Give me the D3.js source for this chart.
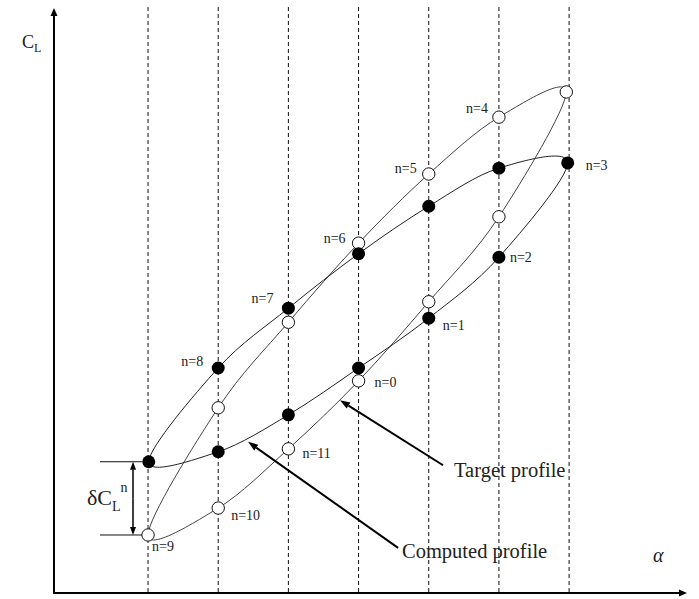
<!DOCTYPE html>
<html>
<head>
<meta charset="utf-8">
<script src="https://cdn.jsdelivr.net/npm/d3@7"></script>
<style>
  html, body { margin: 0; padding: 0; background: #fff; }
  svg { display: block; }
  text { font-family: "Liberation Serif", "Times New Roman", serif; fill: #222; }
</style>
</head>
<body>
<svg id="chart" width="699" height="599"></svg>
<script>
// Angle-of-attack stations (dashed verticals)
const stations = [0, 1, 2, 3, 4, 5, 6];

// Phase index n = 0..11 over one oscillation cycle
const phaseLabels = ["n=0", "n=1", "n=2", "n=3", "n=4", "n=5",
                     "n=6", "n=7", "n=8", "n=9", "n=10", "n=11"];

// Target lift profile (open markers)
const targetAlpha = [3, 4, 5, 5.96, 5, 4, 3, 2, 1, 0, 1, 2];
const targetCL    = [3.62, 4.97, 6.42, 8.55, 8.12, 7.15, 5.97, 4.62, 3.16, 0.99, 1.45, 2.46];

// Computed lift profile (filled markers)
const computedAlpha = [3, 4, 5, 5.98, 5, 4, 3, 2, 1, 0.01, 1, 2];
const computedCL    = [3.84, 4.69, 5.73, 7.34, 7.25, 6.60, 5.79, 4.86, 3.84, 2.24, 2.41, 3.04];

const svg = d3.select("#chart");

const x = d3.scaleLinear().domain([-1.34, 7.68]).range([54, 687]);
const y = d3.scaleLinear().domain([0, 10]).range([593, 7]);

const target = targetAlpha.map((a, i) => ({ n: i, a, cl: targetCL[i] }));
const computed = computedAlpha.map((a, i) => ({ n: i, a, cl: computedCL[i] }));

// Dashed station lines
svg.append("g").selectAll("line").data(stations).join("line")
  .attr("x1", d => x(d)).attr("x2", d => x(d))
  .attr("y1", y(10)).attr("y2", y(0))
  .attr("stroke", "#111").attr("stroke-width", 1)
  .attr("stroke-dasharray", "4,3");

// Closed smooth loops through the samples
const loop = d3.line()
  .x(d => x(d.a)).y(d => y(d.cl))
  .curve(d3.curveCatmullRomClosed.alpha(0));

svg.append("path").datum(target).attr("d", loop)
  .attr("fill", "none").attr("stroke", "#444").attr("stroke-width", 1);
svg.append("path").datum(computed).attr("d", loop)
  .attr("fill", "none").attr("stroke", "#222").attr("stroke-width", 1);

// Markers
svg.append("g").selectAll("circle").data(target).join("circle")
  .attr("cx", d => x(d.a)).attr("cy", d => y(d.cl)).attr("r", 6.2)
  .attr("fill", "#fff").attr("stroke", "#111").attr("stroke-width", 1);
svg.append("g").selectAll("circle").data(computed).join("circle")
  .attr("cx", d => x(d.a)).attr("cy", d => y(d.cl)).attr("r", 6.5)
  .attr("fill", "#000");

// Phase labels: which marker each sits beside, and its offset
const labelPlacement = [
  { on: "t", dx: 16, dy: 6, anchor: "start" },
  { on: "c", dx: 14, dy: 12, anchor: "start" },
  { on: "c", dx: 11, dy: 5, anchor: "start" },
  { on: "c", dx: 18, dy: 7, anchor: "start" },
  { on: "t", dx: -11, dy: -4, anchor: "end" },
  { on: "t", dx: -12, dy: -1, anchor: "end" },
  { on: "t", dx: -13, dy: 0, anchor: "end" },
  { on: "c", dx: -15, dy: -5, anchor: "end" },
  { on: "c", dx: -15, dy: -2, anchor: "end" },
  { on: "t", dx: 4, dy: 16, anchor: "start" },
  { on: "t", dx: 13, dy: 12, anchor: "start" },
  { on: "t", dx: 14, dy: 9, anchor: "start" }
];
svg.append("g").selectAll("text").data(phaseLabels).join("text")
  .attr("x", (d, i) => {
    const p = labelPlacement[i], pt = p.on === "t" ? target[i] : computed[i];
    return x(pt.a) + p.dx;
  })
  .attr("y", (d, i) => {
    const p = labelPlacement[i], pt = p.on === "t" ? target[i] : computed[i];
    return y(pt.cl) + p.dy;
  })
  .attr("text-anchor", (d, i) => labelPlacement[i].anchor)
  .attr("font-size", 14)
  .text(d => d);

// Arrow helper: shaft plus filled head at (x2, y2)
function arrow(g, x1, y1, x2, y2, w, len, half) {
  const ang = Math.atan2(y2 - y1, x2 - x1);
  const bx = x2 - len * Math.cos(ang), by = y2 - len * Math.sin(ang);
  g.append("line").attr("x1", x1).attr("y1", y1).attr("x2", bx).attr("y2", by)
    .attr("stroke", "#000").attr("stroke-width", w);
  const px = -Math.sin(ang) * half, py = Math.cos(ang) * half;
  g.append("polygon")
    .attr("points", [[x2, y2], [bx + px, by + py], [bx - px, by - py]].map(p => p.join(",")).join(" "))
    .attr("fill", "#000");
}

// Axes
const axes = svg.append("g");
arrow(axes, x(-1.34), y(0) + 1, x(-1.34), y(10) + 1, 2, 8, 3.5);
arrow(axes, x(-1.34) - 1, y(0), x(7.68), y(0), 2, 8, 3.5);

svg.append("text").attr("x", 22).attr("y", 48).attr("font-size", 18).text("C")
  .append("tspan").attr("font-size", 12).attr("dy", 4).text("L");
svg.append("text").attr("x", 653).attr("y", 562).attr("font-size", 20)
  .attr("font-style", "italic").text("α");

// Callouts
const ann = svg.append("g");
arrow(ann, x(4.204), y(2.18), x(2.736), y(3.29), 2, 10, 3.5);
arrow(ann, x(3.563), y(0.77), x(1.425), y(2.58), 2, 10, 3.5);
ann.append("text").attr("x", 454).attr("y", 477).attr("font-size", 20.5).text("Target profile");
ann.append("text").attr("x", 402).attr("y", 558).attr("font-size", 20.5).text("Computed profile");

// Amplitude error at the lowest station
const yTop = y(computed[9].cl), yBot = y(target[9].cl);
ann.append("line").attr("x1", 100).attr("x2", 142).attr("y1", yTop).attr("y2", yTop)
  .attr("stroke", "#111").attr("stroke-width", 1);
ann.append("line").attr("x1", 100).attr("x2", 142).attr("y1", yBot).attr("y2", yBot)
  .attr("stroke", "#111").attr("stroke-width", 1);
const mid = (yTop + yBot) / 2;
arrow(ann, 133, mid, 133, yTop, 1.5, 8, 3);
arrow(ann, 133, mid, 133, yBot, 1.5, 8, 3);
const dt = ann.append("text").attr("x", 87).attr("y", 505).attr("font-size", 22);
dt.append("tspan").text("δC");
dt.append("tspan").attr("font-size", 14).attr("dy", 6).text("L");
dt.append("tspan").attr("font-size", 14).attr("dy", -19).text("n");
</script>
</body>
</html>
